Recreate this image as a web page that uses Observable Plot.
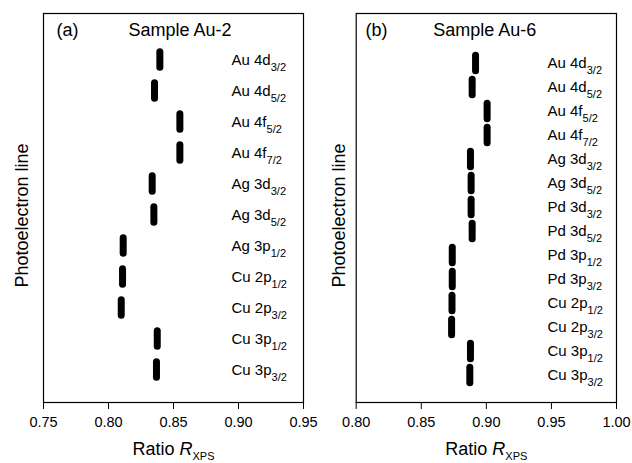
<!DOCTYPE html>
<html><head><meta charset="utf-8">
<script src="https://cdn.jsdelivr.net/npm/d3@7"></script>
<script src="https://cdn.jsdelivr.net/npm/@observablehq/plot@0.6"></script>
<style>
body{margin:0;background:#fff;}
#wrap{position:relative;width:632px;height:463px;font-family:"Liberation Sans",Arial,sans-serif;}
#wrap svg{position:absolute;top:0;overflow:visible;}
</style></head><body><div id="wrap"></div>
<script>
// ---- data ----
const linesA = ["Au 4d_3/2","Au 4d_5/2","Au 4f_5/2","Au 4f_7/2","Ag 3d_3/2","Ag 3d_5/2","Ag 3p_1/2","Cu 2p_1/2","Cu 2p_3/2","Cu 3p_1/2","Cu 3p_3/2"];
const ratiosA = [0.8395, 0.8354, 0.8549, 0.8549, 0.8336, 0.8349, 0.8113, 0.8108, 0.8098, 0.8375, 0.8369];
const linesB = ["Au 4d_3/2","Au 4d_5/2","Au 4f_5/2","Au 4f_7/2","Ag 3d_3/2","Ag 3d_5/2","Pd 3d_3/2","Pd 3d_5/2","Pd 3p_1/2","Pd 3p_3/2","Cu 2p_1/2","Cu 2p_3/2","Cu 3p_1/2","Cu 3p_3/2"];
const ratiosB = [0.8917, 0.8891, 0.9006, 0.9006, 0.8878, 0.8883, 0.8883, 0.8891, 0.8738, 0.8738, 0.8736, 0.8733, 0.8878, 0.8873];
const ticksA = [0.75, 0.80, 0.85, 0.90, 0.95];
const ticksB = [0.80, 0.85, 0.90, 0.95, 1.00];
const panelTags = ["(a)", "(b)"];
const sampleNames = ["Sample Au-2", "Sample Au-6"];
const xTitle = "Ratio *R*_XPS";
const yTitle = "Photoelectron line";

const FONT = '"Liberation Sans", Arial, Helvetica, sans-serif';

function richify(svg, subSize, subDy) {
  svg.querySelectorAll("text").forEach(t => {
    const s = t.textContent;
    if (!/[_*]/.test(s)) return;
    t.textContent = "";
    const re = /\*([^*]+)\*|_(.+)$|([^*_]+)/g;
    let m;
    while ((m = re.exec(s)) !== null) {
      const ts = document.createElementNS("http://www.w3.org/2000/svg", "tspan");
      if (m[1] !== undefined) { ts.textContent = m[1]; ts.setAttribute("font-style", "italic"); }
      else if (m[2] !== undefined) { ts.textContent = m[2]; ts.setAttribute("font-size", subSize); ts.setAttribute("dy", subDy); }
      else { ts.textContent = m[3]; }
      t.appendChild(ts);
    }
  });
}

function panel(cfg) {
  const data = cfg.lines.map((line, i) => ({line, ratio: cfg.ratios[i]}));
  const svg = Plot.plot({
    width: 320, height: 463,
    marginLeft: cfg.ml, marginRight: cfg.mr, marginTop: 13, marginBottom: 61,
    style: {fontFamily: FONT, fontSize: "14.5px", color: "#000", background: "transparent"},
    x: {domain: [cfg.ticks[0], cfg.ticks[cfg.ticks.length - 1]], ticks: cfg.ticks, tickFormat: d3.format(".2f"), tickSize: 7, tickPadding: 7.5, label: null},
    y: {type: "band", domain: cfg.lines, range: cfg.yRange, padding: 0, axis: null},
    marks: [
      Plot.frame({stroke: "#000", strokeWidth: 1.2}),
      Plot.tickX(data, {x: "ratio", y: "line", stroke: "#000", strokeWidth: 7, strokeLinecap: "round", insetTop: cfg.inset, insetBottom: cfg.inset}),
      Plot.text(data, {y: "line", text: "line", frameAnchor: "right", textAnchor: "start", dx: cfg.labelDx, fontSize: 15, fill: "#000"}),
      Plot.text([cfg.tag], {text: d => d, frameAnchor: "top-left", textAnchor: "start", lineAnchor: "bottom", dx: cfg.tagDx, dy: 22, fontSize: 18, fill: "#000"}),
      Plot.text([cfg.sample], {text: d => d, frameAnchor: "top-left", textAnchor: "start", lineAnchor: "bottom", dx: cfg.sampleDx, dy: 22, fontSize: 18, fill: "#000"}),
      Plot.text([yTitle], {text: d => d, frameAnchor: "left", rotate: -90, textAnchor: "middle", lineAnchor: "bottom", dx: cfg.yLabelDx, dy: 7.5, fontSize: 18, fill: "#000"}),
      Plot.text([xTitle], {text: d => d, frameAnchor: "bottom", textAnchor: "middle", lineAnchor: "bottom", dy: 52.5, fontSize: 18, fill: "#000", className: "xtitle"})
    ]
  });
  richify(svg, "11px", "6");
  // the axis title's subscript sits a little higher so it stays inside the picture
  svg.querySelectorAll(".xtitle tspan[dy]").forEach(ts => ts.setAttribute("dy", "4.5"));
  svg.style.left = cfg.left + "px";
  return svg;
}

const wrap = document.getElementById("wrap");
wrap.appendChild(panel({
  lines: linesA, ratios: ratiosA, ticks: ticksA, tag: panelTags[0], sample: sampleNames[0],
  left: 0, ml: 43, mr: 17, yRange: [42.3, 387.7], inset: 7.7, labelDx: -72,
  tagDx: 13, sampleDx: 85, yLabelDx: -15.5
}));
wrap.appendChild(panel({
  lines: linesB, ratios: ratiosB, ticks: ticksB, tag: panelTags[1], sample: sampleNames[1],
  left: 312, ml: 43.7, mr: 16, yRange: [47.8, 390.2], inset: 4.2, labelDx: -69,
  tagDx: 9.3, sampleDx: 77, yLabelDx: -11.5
}));
</script></body></html>
